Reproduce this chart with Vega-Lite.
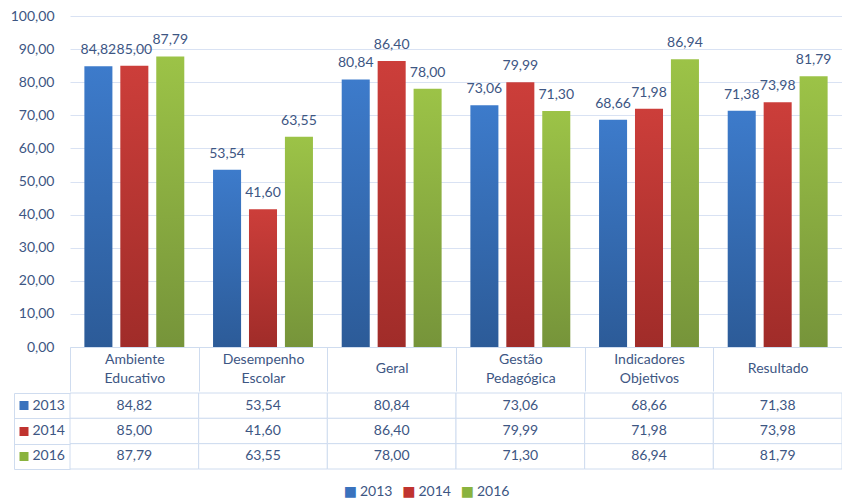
{
  "$schema": "https://vega.github.io/schema/vega-lite/v6.json",
  "background": "white",
  "padding": {"left": 10, "top": 9, "right": 0, "bottom": -11},
  "spacing": 0,
  "config": {
    "locale": {"number": {"decimal": ",", "thousands": ".", "grouping": [3], "currency": ["", ""]}},
    "font": "Lato",
    "view": {"stroke": null},
    "axis": {"labelFont": "Lato", "labelFontSize": 14, "labelColor": "#3d5683", "title": null}
  },
  "datasets": {
    "scores": [
      {"category": "Ambiente Educativo", "year": "2013", "value": 84.82},
      {"category": "Ambiente Educativo", "year": "2014", "value": 85.00},
      {"category": "Ambiente Educativo", "year": "2016", "value": 87.79},
      {"category": "Desempenho Escolar", "year": "2013", "value": 53.54},
      {"category": "Desempenho Escolar", "year": "2014", "value": 41.60},
      {"category": "Desempenho Escolar", "year": "2016", "value": 63.55},
      {"category": "Geral", "year": "2013", "value": 80.84},
      {"category": "Geral", "year": "2014", "value": 86.40},
      {"category": "Geral", "year": "2016", "value": 78.00},
      {"category": "Gestão Pedagógica", "year": "2013", "value": 73.06},
      {"category": "Gestão Pedagógica", "year": "2014", "value": 79.99},
      {"category": "Gestão Pedagógica", "year": "2016", "value": 71.30},
      {"category": "Indicadores Objetivos", "year": "2013", "value": 68.66},
      {"category": "Indicadores Objetivos", "year": "2014", "value": 71.98},
      {"category": "Indicadores Objetivos", "year": "2016", "value": 86.94},
      {"category": "Resultado", "year": "2013", "value": 71.38},
      {"category": "Resultado", "year": "2014", "value": 73.98},
      {"category": "Resultado", "year": "2016", "value": 81.79}
    ],
    "years": [{"year": "2013"}, {"year": "2014"}, {"year": "2016"}]
  },
  "vconcat": [
    {
      "width": 772,
      "height": 331,
      "data": {"name": "scores"},
      "encoding": {
        "x": {
          "field": "category", "type": "nominal", "sort": null,
          "scale": {"paddingInner": 0, "paddingOuter": 0},
          "axis": {
            "labelAngle": 0, "labelExpr": "split(datum.label, ' ')",
            "labelBaseline": "middle",
            "labelPadding": {"condition": {"test": "indexof(datum.label, ' ') < 0", "value": -22.5}, "value": -32},
            "labelLineHeight": 19,
            "domain": true, "domainColor": "#cfdcef",
            "ticks": true, "tickBand": "extent", "tickSize": 44, "tickColor": "#cfdcef",
            "grid": false, "labelOverlap": false
          }
        },
        "xOffset": {"field": "year", "type": "nominal", "scale": {"domain": ["2013", "2014", "2016"], "paddingInner": 0.22, "paddingOuter": 0.4}},
        "y": {
          "field": "value", "type": "quantitative",
          "scale": {"domain": [0, 100]},
          "axis": {"values": [0, 10, 20, 30, 40, 50, 60, 70, 80, 90, 100], "format": ",.2f", "grid": true, "gridColor": "#d9e2f3", "domain": false, "ticks": false, "labelPadding": 16}
        }
      },
      "layer": [
        {
          "transform": [{"filter": "datum.year === '2013'"}],
          "mark": {"type": "bar", "color": {"gradient": "linear", "x1": 0, "y1": 0, "x2": 0, "y2": 1, "stops": [{"offset": 0, "color": "#3d7bcb"}, {"offset": 1, "color": "#2c5b98"}]}}
        },
        {
          "transform": [{"filter": "datum.year === '2014'"}],
          "mark": {"type": "bar", "color": {"gradient": "linear", "x1": 0, "y1": 0, "x2": 0, "y2": 1, "stops": [{"offset": 0, "color": "#cc3e3a"}, {"offset": 1, "color": "#a02c29"}]}}
        },
        {
          "transform": [{"filter": "datum.year === '2016'"}],
          "mark": {"type": "bar", "color": {"gradient": "linear", "x1": 0, "y1": 0, "x2": 0, "y2": 1, "stops": [{"offset": 0, "color": "#9cc347"}, {"offset": 1, "color": "#76943a"}]}}
        },
        {
          "mark": {"type": "text", "baseline": "middle", "dy": -16, "fontSize": 14, "color": "#3d5683", "font": "Lato"},
          "encoding": {"text": {"field": "value", "type": "quantitative", "format": ".2f"}}
        }
      ]
    },
    {
      "width": 772,
      "height": 76,
      "data": {"name": "scores"},
      "encoding": {
        "x": {"field": "category", "type": "nominal", "sort": null, "scale": {"paddingInner": 0, "paddingOuter": 0}, "axis": null}
      },
      "layer": [
        {
          "mark": {"type": "rect", "fill": "white", "stroke": "#cfdcef", "strokeWidth": 1},
          "encoding": {
            "y": {
              "field": "year", "type": "nominal",
              "scale": {"domain": ["2013", "2014", "2016"], "paddingInner": 0, "paddingOuter": 0},
              "axis": {"orient": "left", "offset": 56, "labels": false, "grid": false, "domain": true, "domainColor": "#cfdcef", "ticks": true, "tickBand": "extent", "tickSize": -56, "tickColor": "#cfdcef"}
            }
          }
        },
        {
          "mark": {"type": "text", "fontSize": 14, "color": "#3d5683", "font": "Lato", "baseline": "middle"},
          "encoding": {
            "text": {"field": "value", "type": "quantitative", "format": ".2f"},
            "y": {
              "field": "year", "type": "nominal",
              "scale": {"domain": ["2013", "2014", "2016"], "paddingInner": 0, "paddingOuter": 0},
              "axis": {
                "orient": "left", "offset": 42, "domain": false, "grid": false,
                "ticks": true, "tickSize": 9, "tickWidth": 9,
                "tickColor": {"condition": [{"test": "datum.value === '2013'", "value": "#3a72bd"}, {"test": "datum.value === '2014'", "value": "#c0332f"}], "value": "#8ab33e"},
                "labelAlign": "left", "labelPadding": -13, "labelBaseline": "middle"
              }
            }
          }
        }
      ],
      "resolve": {"axis": {"y": "independent"}}
    },
    {
      "width": 772,
      "height": 44,
      "data": {"name": "years"},
      "encoding": {
        "x": {"field": "year", "type": "nominal", "scale": {"type": "point", "padding": 0, "range": [287, 404]}, "axis": null}
      },
      "layer": [
        {
          "mark": {"type": "text", "text": "■", "align": "right", "baseline": "middle", "fontSize": 14, "font": "DejaVu Sans"},
          "encoding": {"color": {"field": "year", "type": "nominal", "scale": {"domain": ["2013", "2014", "2016"], "range": ["#3a72bd", "#c0332f", "#8ab33e"]}, "legend": null}}
        },
        {
          "mark": {"type": "text", "align": "left", "baseline": "middle", "dx": 3, "fontSize": 14, "font": "Lato", "color": "#3d5683"},
          "encoding": {"text": {"field": "year", "type": "nominal"}}
        }
      ]
    }
  ]
}
